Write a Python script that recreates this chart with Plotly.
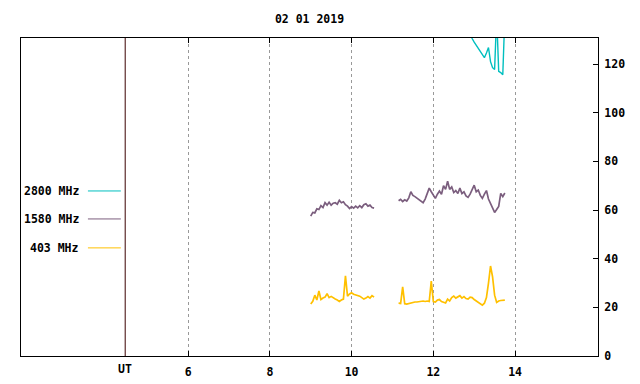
import plotly.graph_objects as go

# ---- data (UT hours, solar flux values) ----
times = [9.00, 9.05, 9.10, 9.15, 9.20, 9.25, 9.30, 9.35, 9.40, 9.45,
         9.50, 9.55, 9.60, 9.65, 9.70, 9.75, 9.80, 9.85, 9.90, 9.95,
         10.00, 10.05, 10.10, 10.15, 10.20, 10.25, 10.30, 10.35, 10.40, 10.45,
         10.50, 10.55,
         10.85,
         11.15, 11.20, 11.25, 11.30, 11.35, 11.40, 11.45, 11.50, 11.55, 11.60,
         11.65, 11.70, 11.75, 11.80, 11.85, 11.90, 11.95, 12.00, 12.05, 12.10,
         12.15, 12.20, 12.25, 12.30, 12.35, 12.40, 12.45, 12.50, 12.55, 12.60,
         12.65, 12.70, 12.75, 12.80, 12.85, 12.90, 12.95, 13.00, 13.05, 13.10,
         13.15, 13.20, 13.25, 13.30, 13.35, 13.40, 13.45, 13.50, 13.55, 13.60,
         13.65, 13.70, 13.75]

flux_1580 = [57.5, 59.0, 58.8, 60.5, 60.2, 61.8, 61.0, 63.0, 62.0, 63.2,
             62.0, 62.8, 63.0, 62.4, 64.0, 63.0, 63.4, 62.2, 61.6, 60.6,
             61.4, 60.8, 61.6, 60.9, 61.8, 61.0, 62.2, 62.6, 61.6, 62.0,
             61.0, 60.8,
             None,
             63.8, 64.4, 63.5, 64.2, 63.7, 65.0, 67.5, 66.0, 65.5, 64.8,
             64.2, 63.6, 63.0, 64.5, 67.0, 69.0, 67.5, 66.0, 64.8, 66.5,
             67.8, 66.5, 70.0, 68.5, 71.8, 68.5, 69.5, 67.2, 68.0, 66.8,
             69.0, 66.8, 67.5, 65.8, 65.2, 66.5, 68.5, 70.2, 67.5, 68.2,
             66.0, 64.8, 66.5, 68.0, 64.5, 62.8, 60.5, 59.0, 60.2, 61.5,
             66.8, 65.5, 67.0]

flux_403 = [21.4, 22.5, 25.0, 23.0, 26.7, 23.2, 23.8, 24.2, 25.6, 24.0,
            24.5, 23.8, 23.4, 23.0, 22.4, 23.0, 23.4, 33.0, 24.6, 25.5,
            26.0, 25.4, 25.2, 25.0, 24.6, 24.0, 23.4, 23.8, 24.4, 23.8,
            24.8, 24.2,
            None,
            21.7, 21.6, 28.4, 21.5, 21.3, 21.6, 21.8, 22.0, 22.2, 22.2,
            22.4, 22.6, 22.6, 22.4, 22.6, 22.4, 30.8, 22.4, 22.2, 23.0,
            23.2, 22.4, 22.0, 21.8, 23.4, 22.6, 24.0, 24.6, 23.8, 24.4,
            24.8, 23.8, 24.4, 23.6, 23.4, 24.2, 24.0, 23.2, 22.6, 21.8,
            21.4, 20.9, 21.7, 24.0, 30.0, 37.0, 32.5, 25.0, 22.0, 22.6,
            22.8, 23.0, 23.0]

times_2800 = [12.90, 12.95, 13.00, 13.05, 13.10, 13.15, 13.20, 13.25, 13.30,
              13.35, 13.40, 13.45, 13.50, 13.55, 13.60, 13.65, 13.70, 13.75]
flux_2800 = [133.0, 130.5, 129.0, 127.8, 126.5, 125.0, 123.8, 122.6, 124.5,
             126.8, 121.0, 118.5, 117.8, 140.0, 117.0, 116.5, 115.6, 140.0]

x_ticks = [6, 8, 10, 12, 14]
y_ticks = [0, 20, 40, 60, 80, 100, 120]
ut_pos = 4.46

series = [("2800 MHz", "#00BFBF"), ("1580 MHz", "#7B5E7E"), ("403 MHz", "#FFC000")]

FONT = "DejaVu Sans Mono"

fig = go.Figure()
fig.add_trace(go.Scatter(x=times_2800, y=flux_2800, mode="lines",
                         line=dict(color=series[0][1], width=1.4),
                         connectgaps=False, showlegend=False))
fig.add_trace(go.Scatter(x=times, y=flux_1580, mode="lines",
                         line=dict(color=series[1][1], width=1.7),
                         connectgaps=False, showlegend=False))
fig.add_trace(go.Scatter(x=times, y=flux_403, mode="lines",
                         line=dict(color=series[2][1], width=1.7),
                         connectgaps=False, showlegend=False))

# UT marker line
fig.add_shape(type="line", xref="x", yref="paper", x0=ut_pos, x1=ut_pos,
              y0=0, y1=1, line=dict(color="#3a0000", width=1))

# hand-made legend on the left
leg_y = [0.519, 0.431, 0.340]
for (name, color), yy in zip(series, leg_y):
    fig.add_annotation(xref="paper", yref="paper", x=0.104, y=yy, text=name,
                       showarrow=False, xanchor="right", yanchor="middle",
                       font=dict(family=FONT, size=11.5, color="black", weight="bold"))
    fig.add_shape(type="line", xref="paper", yref="paper", x0=0.116, x1=0.173,
                  y0=yy, y1=yy, line=dict(color=color, width=1))

fig.add_annotation(xref="x", yref="paper", x=ut_pos, y=0, yshift=-4, text="UT",
                   showarrow=False, xanchor="center", yanchor="top",
                   font=dict(family=FONT, size=11.5, color="black", weight="bold"))

fig.update_layout(
    width=640, height=384,
    margin=dict(l=13, r=50, t=30, b=36, pad=0),
    paper_bgcolor="white", plot_bgcolor="white",
    title=dict(text="02 01 2019", x=0.5, xref="paper", xanchor="center",
               y=1 - 11 / 384, yanchor="middle",
               font=dict(family=FONT, size=11.5, color="black", weight="bold")),
    xaxis=dict(range=[1.91, 16.03], tickvals=x_ticks,
               ticktext=[str(v) for v in x_ticks],
               showgrid=True, gridcolor="#999999", griddash="dot", gridwidth=1,
               zeroline=False, showline=True, linecolor="black", linewidth=1,
               mirror="ticks", ticks="inside", ticklen=5, tickcolor="black",
               ticklabelstandoff=5,
               tickfont=dict(family=FONT, size=11.5, color="black", weight="bold")),
    yaxis=dict(range=[0, 130.7], tickvals=y_ticks, side="right",
               showgrid=False, zeroline=False, showline=True, linecolor="black",
               linewidth=1, mirror=True, ticks="inside", ticklen=5,
               tickcolor="black", ticklabelstandoff=3,
               tickfont=dict(family=FONT, size=11.5, color="black", weight="bold")),
)

fig.write_html("out.html")
